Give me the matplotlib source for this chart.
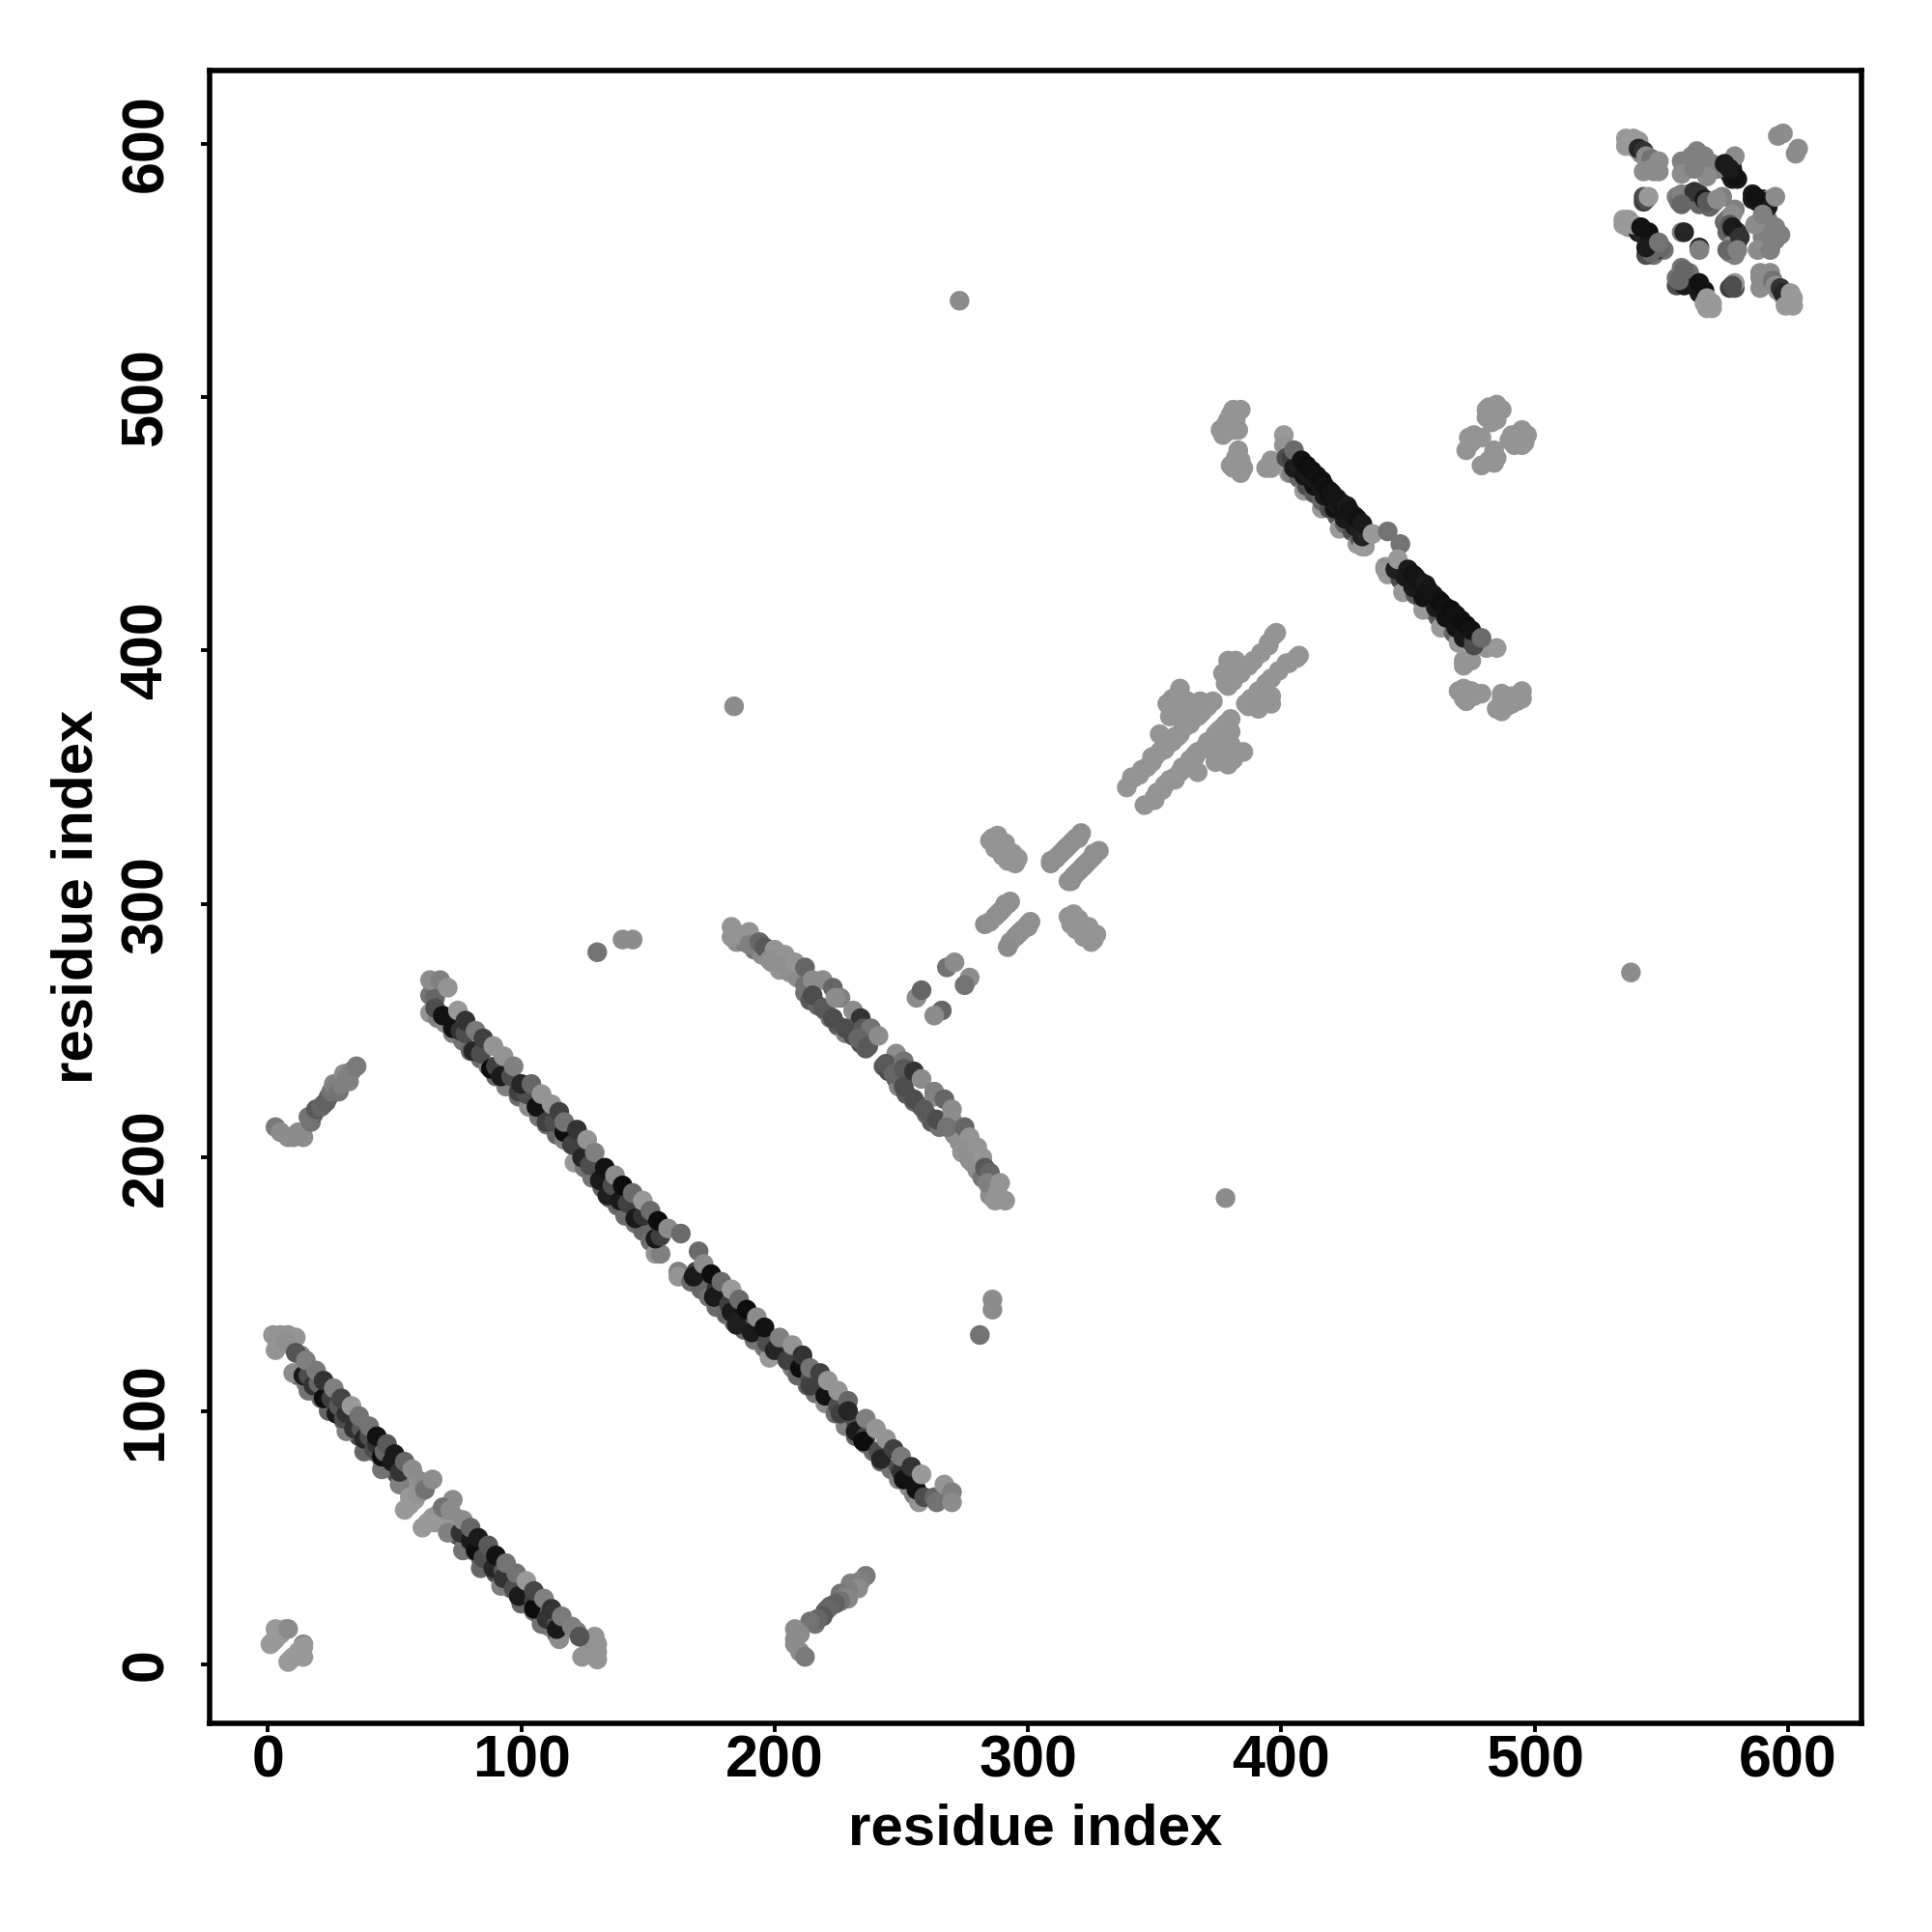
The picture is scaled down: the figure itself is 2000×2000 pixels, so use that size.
#!/usr/bin/env python3
"""Contact map, residue index vs residue index. Contacts are listed once (i < j) and drawn on both sides."""
import matplotlib
matplotlib.use('Agg')
import matplotlib.pyplot as plt

TICKS = [0, 100, 200, 300, 400, 500, 600]
LABEL = 'residue index'

# --- antiparallel strand near the origin
a_fill_i = [5, 11, 4, 9, 13, 12, 15, 18, 21, 24, 27, 30, 33, 36, 39, 42, 45, 48, 51, 56, 58, 60, 62, 58, 52, 56, 58]
a_fill_j = [130, 129, 126, 126, 122, 114, 111, 108, 105, 102, 99, 96, 93, 90, 87, 84, 81, 78, 75, 72, 70, 68, 70, 74, 76, 63, 65]
a_fill_g = [.58, .58, .58, .58, .5, .4, .5, .3, .45, .5, .35, .4, .45, .3, .5, .35, .4, .45, .3, .6, .6, .58, .55, .58, .55, .6, .6]
a_low_i = [2, 8, 3, 7, 10, 16, 24, 31, 38, 45, 52, 54, 56, 59]
a_low_j = [130, 130, 124, 127, 115, 108, 100, 92, 84, 77, 71, 61, 66, 67]
a_low_g = [.58, .58, .58, .56, .55, .45, .4, .5, .4, .45, .5, .6, .6, .58]
a_mid_i = [14, 16, 18, 20, 22, 25, 27, 28, 30, 31, 34, 37, 38, 40, 42, 43, 45, 46, 49, 52]
a_mid_j = [114, 114, 110, 111, 105, 105, 99, 102, 97, 99, 93, 93, 89, 90, 85, 87, 82, 84, 80, 76]
a_mid_g = [.1, .3, .2, .4, .05, .25, .1, .35, .3, .2, .2, .35, .15, .3, .3, .2, .05, .4, .1, .2]
a_top_i = [11, 15, 19, 22, 26, 29, 33, 36, 40, 43, 47, 50, 54, 57, 61, 62, 65]
a_top_j = [123, 120, 116, 112, 109, 105, 102, 98, 94, 90, 87, 83, 80, 77, 72, 69, 73]
a_top_g = [.33, .5, .48, .2, .5, .27, .6, .45, .45, .07, .35, .1, .4, .55, .55, .45, .55]

# --- long strand
b_low_i = [64, 67, 70, 73, 77, 80, 84, 87, 90, 94, 99, 103, 107, 110, 114, 117, 121, 125, 128, 132, 135, 138, 141, 145, 148, 151, 153, 155]
b_low_j = [257, 255, 253, 249, 246, 242, 239, 236, 232, 228, 224, 220, 216, 213, 209, 207, 198, 196, 192, 188, 184, 181, 177, 174, 171, 167, 162, 162]
b_low_g = [.58, .5, .55, .5, .45, .4, .42, .5, .4, .5, .42, .55, .45, .42, .4, .5, .6, .45, .45, .4, .45, .4, .42, .45, .4, .42, .58, .5]
b_mid_i = [64, 66, 66, 69, 73, 76, 78, 81, 84, 88, 90, 92, 96, 99, 102, 106, 110, 113, 117, 120, 124, 127, 131, 134, 136, 139, 142, 145, 148, 153, 155]
b_mid_j = [264, 263, 259, 256, 251, 250, 249, 242, 241, 235, 236, 232, 232, 226, 225, 220, 214, 214, 210, 205, 200, 197, 191, 185, 189, 183, 182, 176, 177, 168, 169]
b_mid_g = [.45, .4, .3, .07, .07, .2, .3, .15, .3, .05, .25, .1, .3, .25, .3, .07, .25, .3, .05, .25, .15, .3, .1, .12, .3, .1, .25, .1, .2, .1, .25]
b_top_i = [64, 68, 71, 75, 78, 82, 85, 89, 93, 97, 100, 104, 108, 112, 115, 117, 122, 126, 129, 133, 137, 140,
           144, 148, 151, 154, 158, 163]
b_top_j = [270, 270, 267, 258, 254, 250, 247, 244, 240, 236, 229, 229, 225, 221, 218, 214, 211, 207, 202, 196, 193,
           189, 186, 183, 179, 175, 172, 170]
b_top_g = [.55, .5, .58, .6, .2, .48, .25, .58, .58, .5, .15, .4, .58, .58, .25, .45, .2, .58, .5, .07, .55, .05,
           .42, .6, .42, .05, .55, .42]

# --- curved strand
c_fill_i = [185, 188, 192, 195, 199, 202, 206, 209, 212, 214, 217, 220, 222, 225, 228, 231, 234, 236]
c_fill_j = [285, 285, 282, 280, 277, 274, 273, 271, 265, 262, 260, 258, 255, 252, 249, 248, 245, 243]
c_fill_g = [.55, .5, .45, .55, .55, .58, .56, .55, .45, .35, .4, .35, .45, .35, .5, .3, .3, .35]
c_i = [183, 183, 186, 190, 190, 194, 196, 200, 198, 204, 203, 208, 212, 212, 215, 219, 215, 223, 226, 219, 224,
       231, 223, 234, 228, 235, 238, 233, 237, 241]
c_j = [291, 287, 288, 289, 284, 285, 283, 282, 278, 280, 276, 277, 275, 268, 270, 270, 264, 267, 263, 259, 263,
       258, 255, 255, 251, 251, 251, 247, 244, 248]
c_g = [.58, .58, .58, .58, .5, .4, .35, .58, .56, .58, .56, .58, .4, .45, .55, .55, .3, .4, .5, .35, .55,
       .55, .3, .2, .3, .35, .45, .4, .35, .55]

# --- strand at the origin corner, far off-diagonal arm
f_i = [3, 8, 14, 12, 5, 10, 17, 18, 16, 19, 21, 22, 23, 24, 25, 26, 27, 28, 29, 30, 31, 32, 33, 35]
f_j = [212, 208, 208, 210, 210, 208, 214, 217, 216, 219, 220, 221, 222, 224, 226, 229, 228, 226, 229, 233, 231, 230, 234, 236]
f_g = [.48, .55, .55, .55, .55, .55, .45, .4, .45, .35, .4, .4, .38, .38, .45, .52, .5, .45, .5, .55, .5, .5, .5, .48]

corner_i = [2, 1, 3, 3, 5, 7, 8]
corner_j = [9, 8, 14, 10, 12, 14, 14]
corner_g = [.6, .6, .6, .6, .6, .6, .54]

# --- small contacts along the diagonal
near_i = [256, 258, 268, 271, 283, 285, 287, 288, 289, 290, 291, 292, 293,
          285, 286, 287, 288, 289, 290, 291, 292, 294, 295, 295, 296, 287, 290, 292, 291, 294, 288,
          309, 309, 311, 311, 313, 312, 314, 315, 315, 316, 317, 318, 319, 320, 321]
near_j = [263, 266, 275, 277, 292, 293, 295, 296, 297, 298, 300, 300, 301,
          325, 326, 325, 323, 324, 322, 321, 320, 318, 318, 316, 318, 322, 319, 317, 324, 320, 327,
          316, 317, 318, 318, 320, 319, 321, 322, 322, 323, 324, 325, 326, 326, 328]
near_g = [.55, .4, .45, .55, .55, .56, .56, .56, .56, .56, .56, .56, .56,
          .58, .58, .58, .58, .58, .58, .58, .58, .58, .58, .58, .58, .58, .58, .58, .58, .58, .58,
          .56, .56, .56, .56, .56, .56, .56, .56, .56, .56, .56, .56, .56, .56, .56]

lone_i = [273, 184, 130, 140, 144]
lone_j = [538, 378, 281, 286, 286]
lone_g = [.55, .55, .45, .55, .55]

# --- diffuse block 340-405
e_i = [339, 341, 344, 342, 347, 349, 353, 349, 342, 345, 350, 352, 354, 356, 358, 360, 362, 364, 367,
       355, 360, 362, 366, 366, 368, 359, 356, 352, 357, 360, 363, 365, 368, 369, 364, 357, 361, 360,
       379, 378, 382, 379, 382, 377, 381, 384, 387, 385, 387, 389, 392, 395, 395, 397, 398, 371, 373, 357, 379]
e_j = [346, 350, 351, 350, 354, 356, 361, 358, 350, 353, 358, 360, 361, 364, 366, 367, 370, 372, 374,
       379, 382, 377, 379, 374, 375, 366, 374, 367, 375, 375, 380, 377, 380, 376, 371, 381, 372, 385,
       393, 387, 393, 396, 396, 391, 388, 391, 394, 393, 394, 396, 399, 402, 403, 406, 407, 378, 380, 364, 386]
e_g = [.58] * len(e_i)

# --- block by the short strand
d_side_i = [381, 384, 376, 381, 379, 378, 380, 382, 377, 383, 383, 382, 384, 380, 384, 381, 382, 385, 394, 396, 396,
            481, 487, 484, 485, 481, 483, 482, 485, 477, 479, 474, 473, 475, 476]
d_side_j = [495, 495, 487, 487, 491, 489, 493, 491, 485, 487, 479, 476, 475, 473, 470, 472, 474, 472, 472, 472, 475,
            495, 495, 494, 491, 492, 490, 496, 497, 484, 484, 484, 479, 482, 485]
d_side_g = [.58] * len(d_side_i)

# --- short strand
d_low_i = [401, 401, 403, 404, 407, 409, 410, 413, 416, 416, 419, 422, 423, 425, 428, 430, 431, 433, 432, 434]
d_low_j = [485, 481, 470, 470, 468, 463, 465, 462, 456, 459, 456, 453, 448, 450, 447, 442, 444, 441, 441, 445]
d_low_g = [.6, .58, .6, .5, .4, .6, .3, .35, .6, .4, .3, .35, .6, .4, .3, .6, .35, .58, .6, .58]
d_mid_i = [402, 404, 405, 407, 409, 410, 413, 413, 416, 417, 419, 421, 422, 425, 425, 428, 429, 431, 432, 433]
d_mid_j = [476, 476, 472, 473, 469, 470, 465, 468, 464, 461, 461, 456, 458, 452, 455, 451, 449, 448, 445, 447]
d_mid_g = [.3, .25, .1, .12, .08, .1, .07, .1, .1, .1, .07, .07, .1, .1, .08, .1, .1, .12, .12, .15]
d_top_i = [405, 408, 410, 412, 414, 416, 417, 419, 420, 422, 424, 426, 427, 429, 430, 432, 436, 442]
d_top_j = [479, 475, 473, 471, 469, 467, 465, 463, 462, 460, 458, 457, 455, 453, 452, 450, 446, 447]
d_top_g = [.42, .07, .06, .06, .07, .06, .07, .06, .08, .08, .08, .1, .08, .08, .07, .1, .6, .45]

# --- top right cluster
g_fill_i = [538, 540, 542, 545, 544, 547, 548, 560, 562, 565, 566, 569, 570, 578, 577, 578, 580, 578,
            556, 557, 560, 561, 565, 566, 570, 571, 569, 565, 574, 535, 537, 537, 541, 543, 546, 548, 551, 547, 544,
            548, 596, 543, 543]
g_fill_j = [600, 598, 596, 592, 590, 589, 591, 591, 595, 593, 591, 590, 592, 593, 588, 586, 586, 590,
            579, 577, 578, 580, 580, 578, 576, 577, 575, 576, 579, 568, 570, 567, 565, 564, 562, 560, 558, 556, 556,
            558, 603, 579, 577]
g_fill_g = [.6, .6, .55, .5, .55, .55, .55, .55, .5, .5, .55, .55, .5, .55, .1, .1, .1, .1,
            .5, .45, .55, .3, .2, .3, .45, .5, .4, .4, .5, .6, .6, .6, .1, .15, .2, .4, .45, .45, .3,
            .15, .55, .3, .25]
g_i = [536, 539, 541, 536, 541, 543, 544, 546, 549, 543, 549, 546, 558, 558, 564, 567, 572, 568, 563, 579, 579,
       577, 575, 544, 545, 558, 563, 567, 568, 572, 558, 598, 535, 539, 542, 545, 550, 546, 544, 549, 558, 559]
g_j = [602, 602, 601, 599, 598, 597, 595, 594, 593, 589, 589, 590, 593, 588, 597, 595, 590, 587, 590, 595, 587,
       590, 592, 578, 579, 580, 581, 578, 577, 578, 576, 604, 570, 568, 567, 565, 559, 557, 559, 561, 565, 565]
g_g = [.6, .6, .6, .6, .15, .2, .55, .45, .55, .55, .55, .55, .5, .55, .5, .5, .5, .55, .5, .55, .07,
       .1, .1, .3, .6, .5, .2, .1, .35, .55, .4, .55, .6, .6, .07, .07, .4, .4, .1, .45, .5, .15]

ROWS = [(a_fill_i, a_fill_j, a_fill_g), (a_low_i, a_low_j, a_low_g), (a_mid_i, a_mid_j, a_mid_g),
        (a_top_i, a_top_j, a_top_g),
        (b_low_i, b_low_j, b_low_g), (b_mid_i, b_mid_j, b_mid_g), (b_top_i, b_top_j, b_top_g),
        (c_fill_i, c_fill_j, c_fill_g), (c_i, c_j, c_g), (f_i, f_j, f_g), (corner_i, corner_j, corner_g),
        (near_i, near_j, near_g), (lone_i, lone_j, lone_g), (e_i, e_j, e_g), (d_side_i, d_side_j, d_side_g),
        (d_low_i, d_low_j, d_low_g), (d_mid_i, d_mid_j, d_mid_g), (d_top_i, d_top_j, d_top_g),
        (g_fill_i, g_fill_j, g_fill_g), (g_i, g_j, g_g)]

plt.rcParams['font.family'] = ['Liberation Sans', 'DejaVu Sans']
plt.rcParams['font.weight'] = 'bold'

fig = plt.figure(figsize=(10, 10), dpi=200)
ax = fig.add_axes([217 / 2000, 216 / 2000, 1710 / 2000, 1711 / 2000])

for i, j, g in ROWS:
    # upper side, then the mirror walked backwards so that x still grows
    ax.scatter(i, j, c=[str(v) for v in g], s=54, linewidths=0, zorder=2)
    ax.scatter(j[::-1], i[::-1], c=[str(v) for v in g[::-1]], s=54, linewidths=0, zorder=2)

ax.set_xlim(-23, 629)
ax.set_ylim(-23.2, 628.8)
ax.set_xticks(TICKS)
ax.set_yticks(TICKS)
ax.tick_params(axis='x', length=3.3, width=1.4, labelsize=22, pad=1)
ax.tick_params(axis='y', length=3.3, width=1.4, labelsize=22, pad=9.7, labelrotation=90)
for t in ax.get_yticklabels():
    t.set_va('center')
ax.set_xlabel(LABEL, fontsize=21.6, fontweight='bold', labelpad=4.8)
ax.set_ylabel(LABEL, fontsize=21.6, fontweight='bold', labelpad=6)
for s in ax.spines.values():
    s.set_linewidth(2)

fig.savefig('out.png', dpi=200)
